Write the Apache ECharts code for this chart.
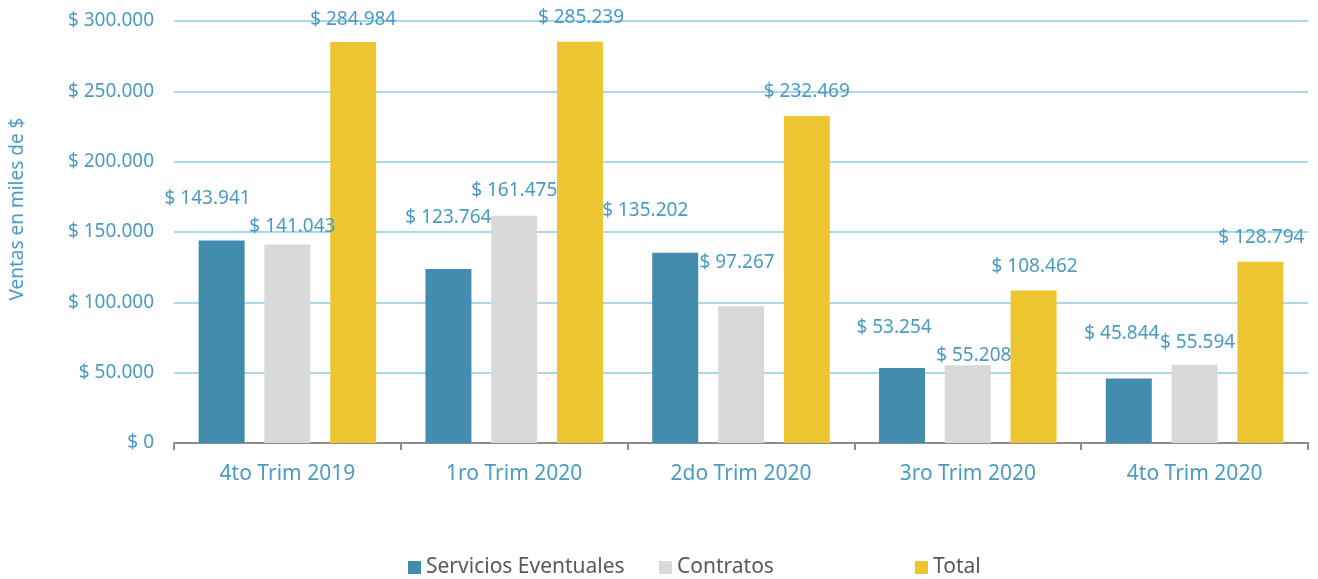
<!DOCTYPE html>
<html>
<head>
<meta charset="utf-8">
<script src="https://cdn.jsdelivr.net/npm/echarts@6/dist/echarts.min.js"></script>
<style>
  html, body { margin: 0; padding: 0; background: #ffffff; }
  #chart { width: 1318px; height: 579px; }
</style>
</head>
<body>
<div id="chart"></div>
<script>
// Quarterly sales, in thousands of $
const categories = ['4to Trim 2019', '1ro Trim 2020', '2do Trim 2020', '3ro Trim 2020', '4to Trim 2020'];
const serviciosEventuales = [143941, 123764, 135202, 53254, 45844];
const contratos = [141043, 161475, 97267, 55208, 55594];
const total = [284984, 285239, 232469, 108462, 128794];
const seriesNames = ['Servicios Eventuales', 'Contratos', 'Total'];
const yTicks = [0, 50000, 100000, 150000, 200000, 250000, 300000];

// Hand-placed label nudges [dx, dy] so labels don't collide
const labelNudges = [
  [[-14, -32], [5, -8], [0, -13]],
  [[0, -41], [0, -15], [1, -14]],
  [[-30, -32], [-4, -34], [0, -14]],
  [[-8, -30], [6, 0], [1, -14]],
  [[-7, -35], [3, -12], [1, -14]]
];

const colors = ['#428DAD', '#D9D9D9', '#ECC530'];
const textBlue = '#4A9BC2';
const font = 'Noto Sans';

function money(v) {
  return '$ ' + String(v).replace(/\B(?=(\d{3})+(?!\d))/g, '.');
}

function buildSeries(name, values, sIdx) {
  return {
    name: name,
    type: 'bar',
    barWidth: 46,
    barGap: '43%',
    itemStyle: { color: colors[sIdx] },
    data: values.map((v, i) => ({
      value: v,
      label: { offset: labelNudges[i][sIdx] }
    })),
    label: {
      show: true,
      position: 'top',
      distance: 0,
      color: textBlue,
      fontFamily: font,
      fontSize: 19,
      lineHeight: 20,
      formatter: p => money(p.value)
    }
  };
}

const chart = echarts.init(document.getElementById('chart'), null, { renderer: 'canvas' });

const legendCommon = {
  icon: 'rect',
  itemWidth: 13,
  itemHeight: 13,
  itemGap: 0,
  padding: 0,
  top: 557,
  textStyle: { color: '#595959', fontFamily: font, fontSize: 21 }
};

chart.setOption({
  animation: false,
  backgroundColor: '#ffffff',
  grid: { left: 174, right: 10, top: 21, bottom: 136, containLabel: false },
  legend: [
    Object.assign({}, legendCommon, { left: 408, data: [seriesNames[0]] }),
    Object.assign({}, legendCommon, { left: 659, data: [seriesNames[1]] }),
    Object.assign({}, legendCommon, { left: 915, data: [seriesNames[2]] })
  ],
  graphic: [{
    type: 'text',
    x: 18,
    y: 209,
    rotation: Math.PI / 2,
    style: {
      text: 'Ventas en miles de $',
      fill: textBlue,
      font: '19px "Noto Sans"',
      align: 'center',
      verticalAlign: 'middle'
    }
  }],
  xAxis: {
    type: 'category',
    data: categories,
    axisLine: { lineStyle: { color: '#8C8C8C', width: 2 } },
    axisTick: { show: true, length: 7, lineStyle: { color: '#8C8C8C', width: 2 } },
    axisLabel: { color: textBlue, fontFamily: font, fontSize: 21, margin: 21 }
  },
  yAxis: {
    type: 'value',
    min: yTicks[0],
    max: yTicks[yTicks.length - 1],
    interval: yTicks[1] - yTicks[0],
    axisLine: { show: false },
    axisTick: { show: false },
    splitLine: { lineStyle: { color: '#A9D8E8', width: 2 } },
    axisLabel: {
      color: textBlue,
      fontFamily: font,
      fontSize: 19,
      margin: 20,
      formatter: v => money(v)
    }
  },
  series: [
    buildSeries(seriesNames[0], serviciosEventuales, 0),
    buildSeries(seriesNames[1], contratos, 1),
    buildSeries(seriesNames[2], total, 2)
  ]
});
</script>
</body>
</html>
